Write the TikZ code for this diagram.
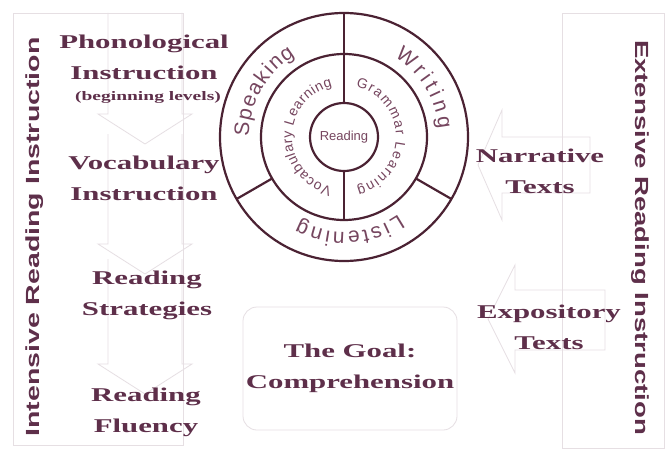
\documentclass[tikz,border=0pt]{standalone}
\usepackage{fontspec}
\usepackage{graphicx}
\setmainfont{Liberation Serif}
\newfontfamily\ringfont{Liberation Sans}
\usetikzlibrary{decorations.text,calc}
\definecolor{plum}{HTML}{5E2F4A}
\definecolor{ringline}{HTML}{4B2233}
\definecolor{ringtext}{HTML}{76465F}
\definecolor{faint}{HTML}{E6DFE3}
% horizontally widened lettering used for the labels
\newcommand\wl[1]{\scalebox{1.58}[1]{#1}}
% text set along a clockwise arc of the wheel: size, radius, start, end, text
\newcommand\ringlabel[5]{%
  \path[decorate, decoration={text along path, text align={fit to path},
        text color=ringtext,
        text={|\ringfont\fontsize{#1}{#1}\selectfont|#5}}]
    ($(c)+(#3:#2)$) arc[start angle=#3, end angle=#4, radius=#2];}
\begin{document}
\begin{tikzpicture}[x=1pt,y=1pt,
  lbl/.style={font=\fontsize{19.5}{31}\selectfont\bfseries, text=plum,
              align=center, inner sep=0pt},
  sidelbl/.style={font=\ringfont\bfseries\fontsize{19}{19}\selectfont,
              text=plum, inner sep=0pt},
  ring/.style={circle, draw=ringline, line width=2.2pt, inner sep=0pt,
              outer sep=0pt},
  divider/.style={draw=ringline, line width=2.2pt},
  ghost/.style={draw=faint, line width=0.8pt}]
\useasboundingbox[fill=white] (0,0) rectangle (669,459);

% column frames
\draw[ghost] (13,14) rectangle (183,446);
\draw[ghost] (562,11) rectangle (664,446);

% faint downward arrows behind the intensive-reading items
\foreach \top/\bot/\tip in {446/345/315, 325/215/185, 200/95/65}{
  \draw[ghost] (108,\top) -- (108,\bot) -- (98,\bot) -- (145,\tip)
    -- (192,\bot) -- (182,\bot) -- (182,\top);
}

% faint left-pointing arrows behind the text types
\draw[ghost] (478,294) -- (502,349) -- (502,322) -- (590,322) -- (590,266)
  -- (502,266) -- (502,239) -- cycle;
\draw[ghost] (488,140) -- (515,194) -- (515,169) -- (605,169) -- (605,109)
  -- (515,109) -- (515,86) -- cycle;

% the language-skills wheel
\coordinate (c) at (344,322);
\node[ring, minimum size=248pt] (outer) at (c) {};
\node[ring, minimum size=166pt] (middle) at (c) {};
\node[ring, minimum size=68pt] (inner) at (c) {};
\path[divider] (inner.90) -- (outer.90);
\path[divider] (inner.270) -- (middle.270);
\path[divider] (middle.210) -- (outer.210);
\path[divider] (middle.330) -- (outer.330);

\ringlabel{21}{95}{180}{121}{Speaking}
\ringlabel{21}{95}{58}{5}{Writing}
\ringlabel{21}{95}{-55}{-118}{Listening}
\ringlabel{14}{52}{257}{103}{Vocabulary Learning}
\ringlabel{14}{52}{77}{-76}{Grammar Learning}
\node[font=\ringfont\fontsize{13}{13}\selectfont, text=ringtext] (read)
  at (c) {Reading};

% intensive reading items
\node[lbl] (phon) at (144,401.5) {\wl{Phonological}\\\wl{Instruction}};
\node[font=\fontsize{13}{13}\selectfont\bfseries, text=plum, inner sep=0pt]
  (begin) at (148,362) {\scalebox{1.5}[1]{(beginning levels)}};
\node[lbl] (vocab) at (144,280.5) {\wl{Vocabulary}\\\wl{Instruction}};
\node[lbl] (strat) at (147,164) {\wl{Reading}\\\wl{Strategies}};
\node[lbl] (flu) at (146,46.5) {\wl{Reading}\\\wl{Fluency}};

% extensive reading items
\node[lbl] (narr) at (540,288) {\wl{Narrative}\\\wl{Texts}};
\node[lbl] (expo) at (549,132) {\wl{Expository}\\\wl{Texts}};

% the goal
\node[lbl, draw=faint, line width=0.8pt, rounded corners=14pt,
      minimum width=214pt, minimum height=123pt] (goal) at (350,90.5)
  {\wl{The Goal:}\\\wl{Comprehension}};

% column titles
\node[sidelbl, rotate=90] (intensive) at (35,222)
  {\scalebox{1.5}[1]{Intensive Reading Instruction}};
\node[sidelbl, rotate=-90] (extensive) at (640,221.5)
  {\scalebox{1.45}[1]{Extensive Reading Instruction}};
\end{tikzpicture}
\end{document}
